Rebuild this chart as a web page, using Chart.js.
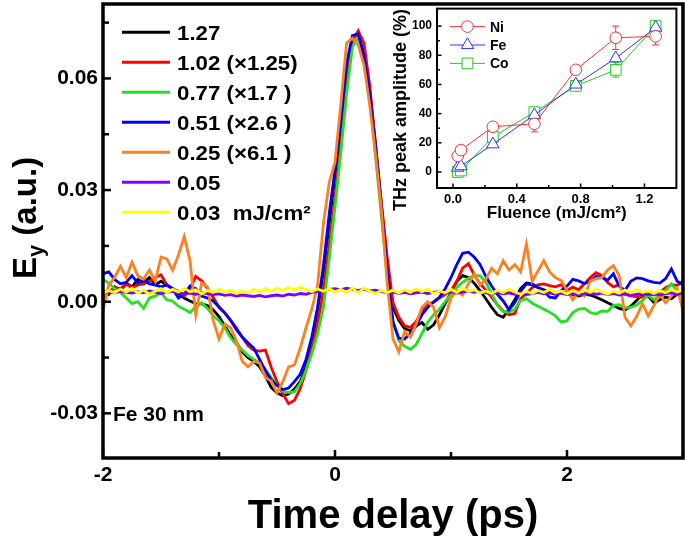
<!DOCTYPE html>
<html>
<head>
<meta charset="utf-8">
<script src="https://cdn.jsdelivr.net/npm/chart.js@4.4.1/dist/chart.umd.min.js"></script>
<style>
html,body{margin:0;padding:0;background:#fff;}
#wrap{position:relative;width:685px;height:544px;overflow:hidden;}
#main{position:absolute;left:0;top:0;width:685px;height:544px;}
#inset{position:absolute;left:380px;top:0;width:305px;height:232px;}
</style>
</head>
<body>
<div id="wrap">
<canvas id="main" width="685" height="544"></canvas>
<canvas id="inset" width="305" height="232"></canvas>
</div>
<script>
// ---------------- data: main panel (time traces) ----------------
const timePs = [-2,-1.95,-1.9,-1.85,-1.8,-1.75,-1.7,-1.65,-1.6,-1.55,-1.5,-1.45,-1.4,-1.35,-1.3,-1.25,-1.2,-1.15,-1.1,-1.05,-1,-0.95,-0.9,-0.85,-0.8,-0.75,-0.7,-0.65,-0.6,-0.55,-0.5,-0.45,-0.4,-0.35,-0.3,-0.25,-0.2,-0.15,-0.1,-0.05,0,0.05,0.1,0.15,0.2,0.25,0.3,0.35,0.4,0.45,0.5,0.55,0.6,0.65,0.7,0.75,0.8,0.85,0.9,0.95,1,1.05,1.1,1.15,1.2,1.25,1.3,1.35,1.4,1.45,1.5,1.55,1.6,1.65,1.7,1.75,1.8,1.85,1.9,1.95,2,2.05,2.1,2.15,2.2,2.25,2.3,2.35,2.4,2.45,2.5,2.55,2.6,2.65,2.7,2.75,2.8,2.85,2.9,2.95,3];

const ey127 = [0.0030,0.0020,0.0040,0.0030,0.0050,0.0040,0.0060,0.0050,0.0065,0.0045,
0.0055,0.0045,0.0035,0.0022,0.0010,0.0002,-0.0005,-0.0006,-0.0010,-0.0022,
-0.0040,-0.0065,-0.0090,-0.0110,-0.0135,-0.0150,-0.0160,-0.0175,-0.0200,-0.0230,
-0.0245,-0.0253,-0.0248,-0.0235,-0.0215,-0.0175,-0.0110,-0.0020,0.0080,0.0210,
0.0340,0.0470,0.0620,0.0710,0.0720,0.0665,0.0560,0.0420,0.0260,0.0100,
-0.0015,-0.0050,-0.0072,-0.0078,-0.0065,-0.0056,-0.0074,-0.0062,-0.0035,-0.0005,
0.0025,0.0055,0.0070,0.0065,0.0050,0.0030,0.0008,-0.0015,-0.0035,-0.0042,
-0.0020,0.0005,0.0035,0.0050,0.0048,0.0038,0.0032,0.0028,0.0025,0.0026,
0.0023,0.0018,0.0015,0.0020,0.0018,0.0012,0.0005,-0.0003,-0.0010,-0.0018,
-0.0022,-0.0012,0.0003,0.0020,0.0015,-0.0003,0.0005,0.0012,0.0008,0.0020,0.0025];

const ey102 = [0.0010,0.0025,0.0038,0.0035,0.0047,0.0038,0.0045,0.0048,0.0055,0.0065,
0.0072,0.0045,0.0035,0.0028,0.0015,0.0035,0.0068,0.0056,0.0036,0.0012,
-0.0015,-0.0030,-0.0050,-0.0070,-0.0095,-0.0118,-0.0130,-0.0133,-0.0130,-0.0176,
-0.0215,-0.0247,-0.0274,-0.0265,-0.0234,-0.0185,-0.0125,-0.0060,0.0030,0.0150,
0.0280,0.0420,0.0590,0.0700,0.0728,0.0695,0.0580,0.0420,0.0265,0.0120,
-0.0002,-0.0042,-0.0065,-0.0069,-0.0053,-0.0025,-0.0008,-0.0002,0.0010,0.0020,
0.0030,0.0055,0.0090,0.0102,0.0072,0.0048,0.0032,0.0012,-0.0008,-0.0025,
-0.0035,-0.0032,0.0008,0.0023,0.0038,0.0045,0.0048,0.0043,0.0040,0.0046,
0.0030,0.0039,0.0032,0.0048,0.0065,0.0078,0.0070,0.0052,0.0040,0.0046,
0.0020,0.0016,0.0014,0.0012,0.0022,0.0018,0.0025,0.0038,0.0046,0.0044,0.0055];

const ey077 = [0.0060,0.0050,0.0035,0.0025,0.0010,-0.0005,0.0000,-0.0018,0.0010,0.0015,
0.0024,0.0005,0.0002,-0.0012,-0.0020,-0.0029,-0.0013,-0.0003,-0.0018,-0.0038,
-0.0051,-0.0070,-0.0097,-0.0115,-0.0130,-0.0145,-0.0155,-0.0165,-0.0182,-0.0204,
-0.0225,-0.0240,-0.0244,-0.0242,-0.0220,-0.0185,-0.0140,-0.0085,-0.0015,0.0115,
0.0255,0.0400,0.0560,0.0685,0.0710,0.0660,0.0540,0.0390,0.0230,0.0070,
-0.0050,-0.0105,-0.0120,-0.0128,-0.0115,-0.0085,-0.0055,-0.0035,-0.0020,0.0000,
0.0020,0.0039,0.0052,0.0063,0.0070,0.0070,0.0052,0.0022,-0.0010,-0.0027,
-0.0028,-0.0020,0.0003,0.0008,-0.0004,-0.0012,-0.0020,-0.0028,-0.0038,-0.0055,
-0.0051,-0.0029,-0.0020,-0.0018,-0.0029,-0.0033,-0.0025,-0.0026,-0.0010,-0.0008,
-0.0016,-0.0015,-0.0009,0.0003,0.0018,0.0005,0.0020,0.0030,0.0048,0.0028,0.0025];

const ey051 = [0.0075,0.0080,0.0060,0.0048,0.0052,0.0070,0.0050,0.0058,0.0048,0.0045,
0.0040,0.0045,0.0035,0.0010,0.0020,0.0042,0.0035,0.0015,0.0010,0.0002,
-0.0014,-0.0030,-0.0050,-0.0075,-0.0095,-0.0110,-0.0125,-0.0155,-0.0185,-0.0210,
-0.0225,-0.0236,-0.0232,-0.0215,-0.0195,-0.0155,-0.0095,-0.0015,0.0097,0.0235,
0.0355,0.0485,0.0640,0.0715,0.0720,0.0660,0.0560,0.0415,0.0250,0.0085,
-0.0055,-0.0098,-0.0100,-0.0085,-0.0065,-0.0035,-0.0015,0.0000,0.0012,0.0035,
0.0065,0.0100,0.0130,0.0133,0.0120,0.0100,0.0068,0.0042,0.0020,0.0002,
-0.0022,-0.0002,0.0028,0.0048,0.0045,0.0038,0.0028,0.0012,0.0010,0.0030,
0.0042,0.0060,0.0056,0.0049,0.0055,0.0068,0.0065,0.0058,0.0075,0.0042,
0.0030,0.0055,0.0064,0.0062,0.0056,0.0052,0.0050,0.0062,0.0088,0.0055,0.0045];

const ey025 = [-0.0024,0.0045,0.0065,0.0095,0.0065,0.0106,0.0070,0.0061,0.0085,0.0055,
0.0120,0.0115,0.0085,0.0125,0.0175,0.0110,-0.0035,0.0050,0.0040,-0.0050,
-0.0100,-0.0060,-0.0070,-0.0105,-0.0160,-0.0175,-0.0160,-0.0165,-0.0204,-0.0213,
-0.0245,-0.0215,-0.0175,-0.0170,-0.0125,-0.0070,-0.0020,0.0045,0.0210,0.0320,
0.0375,0.0530,0.0695,0.0708,0.0690,0.0635,0.0527,0.0395,0.0245,0.0050,
-0.0100,-0.0135,-0.0080,-0.0095,-0.0060,-0.0015,0.0000,-0.0015,-0.0070,-0.0040,
0.0010,0.0030,0.0018,0.0048,0.0075,0.0045,0.0060,0.0090,0.0075,0.0110,
0.0085,0.0100,0.0080,0.0155,0.0055,0.0083,0.0110,0.0080,0.0065,0.0057,
0.0030,0.0005,0.0025,0.0015,0.0055,0.0062,0.0065,0.0085,0.0097,0.0070,
-0.0042,-0.0065,-0.0040,-0.0005,-0.0038,-0.0010,0.0020,-0.0003,0.0015,0.0035,-0.0024];

const ey005 = [0.0022,0.0026,0.0024,0.0028,0.0025,0.0023,0.0027,0.0024,0.0029,0.0026,
0.0022,0.0025,0.0028,0.0024,0.0021,0.0023,0.0020,0.0024,0.0022,0.0019,
0.0021,0.0017,0.0019,0.0015,0.0018,0.0016,0.0014,0.0017,0.0013,0.0016,
0.0018,0.0015,0.0020,0.0018,0.0022,0.0020,0.0025,0.0028,0.0030,0.0033,
0.0035,0.0032,0.0036,0.0033,0.0030,0.0034,0.0029,0.0031,0.0027,0.0024,
0.0026,0.0022,0.0025,0.0021,0.0024,0.0026,0.0022,0.0025,0.0028,0.0024,
0.0027,0.0023,0.0026,0.0029,0.0025,0.0028,0.0024,0.0022,0.0025,0.0021,
0.0024,0.0020,0.0023,0.0019,0.0022,0.0025,0.0021,0.0024,0.0020,0.0023,
0.0019,0.0022,0.0018,0.0021,0.0024,0.0020,0.0023,0.0019,0.0022,0.0018,
0.0021,0.0017,0.0020,0.0023,0.0019,0.0022,0.0018,0.0021,0.0024,0.0020,0.0022];

const ey003 = [0.0022,0.0030,0.0024,0.0034,0.0026,0.0036,0.0023,0.0031,0.0020,0.0028,
0.0035,0.0024,0.0033,0.0026,0.0036,0.0027,0.0032,0.0021,0.0030,0.0025,
0.0034,0.0026,0.0031,0.0022,0.0029,0.0024,0.0033,0.0026,0.0035,0.0028,
0.0036,0.0030,0.0038,0.0032,0.0039,0.0033,0.0027,0.0034,0.0028,0.0035,
0.0026,0.0033,0.0025,0.0036,0.0024,0.0037,0.0028,0.0022,0.0030,0.0024,
0.0031,0.0023,0.0032,0.0025,0.0035,0.0027,0.0034,0.0022,0.0029,0.0024,
0.0033,0.0025,0.0036,0.0028,0.0032,0.0023,0.0029,0.0022,0.0031,0.0024,
0.0034,0.0026,0.0020,0.0028,0.0022,0.0030,0.0025,0.0033,0.0024,0.0029,
0.0021,0.0030,0.0023,0.0032,0.0025,0.0034,0.0026,0.0020,0.0028,0.0023,
0.0031,0.0024,0.0033,0.0025,0.0029,0.0022,0.0030,0.0024,0.0032,0.0026,0.0033];

const seriesLabels = ['1.27', '1.02 (\u00d71.25)', '0.77 (\u00d71.7 )', '0.51 (\u00d72.6 )', '0.25 (\u00d76.1 )', '0.05', '0.03  mJ/cm\u00b2'];
const seriesColors = ['#000000', '#ff0000', '#22e022', '#0000ff', '#ff801e', '#8000ff', '#ffff00'];

const xTickValues = [-2, -1, 0, 1, 2, 3];
const xTickLabeled = [-2, 0, 2];
const yTickValues = [-0.03, -0.015, 0, 0.015, 0.03, 0.045, 0.06, 0.075];
const yTickLabeled = [-0.03, 0, 0.03, 0.06];

// ---------------- data: inset (peak amplitude vs fluence) ----------------
const fluence = [0.03, 0.05, 0.25, 0.51, 0.77, 1.02, 1.27];
const ampNi = [11, 15, 31, 33, 70, 92, 93];
const ampFe = [3, 4, 19, 39, 60, 78, 99];
const ampCo = [0, 1, 24, 41, 59, 70, 100];
const errNi = [0, 0, 0, 5.5, 0, 8, 6];
const errFe = [0, 0, 0, 0, 0, 0, 0];
const errCo = [0, 0, 0, 0, 0, 5, 0];
const insetLabels = ['Ni', 'Fe', 'Co'];
const insetColors = ['#ff3030', '#3030ff', '#22cc22'];
const insetStyles = ['circle', 'triangle', 'rect'];
const insetRadius = [5.8, 7.2, 7.6];
const insetXTicks = [0, 0.4, 0.8, 1.2];
const insetXMinor = [0.2, 0.6, 1.0];
const insetYTicks = [0, 20, 40, 60, 80, 100];
const insetYMinor = [10, 30, 50, 70, 90];

// ---------------- drawing ----------------
const FONT = '"Liberation Sans", Arial, Helvetica, sans-serif';
Chart.defaults.font.family = FONT;
Chart.defaults.color = '#000';
const near = (a, b) => Math.abs(a - b) < 1e-9;
const noPadY = s => { s.paddingTop = 0; s.paddingBottom = 0; };
const noPadX = s => { s.paddingLeft = 0; s.paddingRight = 0; };

const mainDecor = {
  id: 'mainDecor',
  afterDatasetsDraw(chart) {
    const {ctx, chartArea: a, scales: {x, y}} = chart;
    ctx.save();
    ctx.strokeStyle = '#000';
    ctx.lineWidth = 2.5;
    xTickValues.forEach(v => {
      const px = x.getPixelForValue(v);
      const len = xTickLabeled.some(l => near(l, v)) ? 8 : 6;
      ctx.beginPath(); ctx.moveTo(px, a.bottom); ctx.lineTo(px, a.bottom - len); ctx.stroke();
    });
    yTickValues.forEach(v => {
      const py = y.getPixelForValue(v);
      const len = yTickLabeled.some(l => near(l, v)) ? 8 : 6;
      ctx.beginPath(); ctx.moveTo(a.left, py); ctx.lineTo(a.left + len, py); ctx.stroke();
    });
    ctx.lineWidth = 3.5;
    ctx.strokeRect(a.left, a.top, a.right - a.left, a.bottom - a.top);
    ctx.restore();
  },
  afterDraw(chart) {
    const {ctx, chartArea: a} = chart;
    ctx.save();
    // legend
    ctx.font = 'bold 21px ' + FONT;
    ctx.textBaseline = 'alphabetic';
    chart.data.datasets.forEach((ds, i) => {
      const row = a.top + 28.3 + 30 * i;
      ctx.strokeStyle = ds.borderColor;
      ctx.lineWidth = 3;
      ctx.beginPath(); ctx.moveTo(a.left + 19, row); ctx.lineTo(a.left + 67, row); ctx.stroke();
      ctx.fillStyle = '#000';
      ctx.save();
      ctx.translate(a.left + 74, row + 7.5);
      ctx.scale(1.06, 1);
      ctx.fillText(ds.label, 0, 0);
      ctx.restore();
    });
    // sample note
    ctx.fillText('Fe 30 nm', a.left + 10, 421);
    // y axis title  E_y (a.u.)
    const big = 'bold 33px ' + FONT, small = 'bold 22px ' + FONT;
    ctx.font = big; const wE = ctx.measureText('E').width; const wR = ctx.measureText(' (a.u.)').width;
    ctx.font = small; const wy = ctx.measureText('y').width;
    const W = wE + wy + wR;
    ctx.translate(24, 218);
    ctx.rotate(-Math.PI / 2);
    const base = 12;
    let cx = -W / 2;
    ctx.font = big; ctx.fillText('E', cx, base); cx += wE;
    ctx.font = small; ctx.fillText('y', cx, base + 7); cx += wy;
    ctx.font = big; ctx.fillText(' (a.u.)', cx, base);
    ctx.restore();
  }
};

new Chart(document.getElementById('main'), {
  type: 'line',
  data: {
    datasets: [ey127, ey102, ey077, ey051, ey025, ey005, ey003].map((vals, i) => ({
      label: seriesLabels[i],
      data: vals.map((v, k) => ({x: timePs[k], y: v})),
      borderColor: seriesColors[i],
      borderWidth: 2.8,
      pointRadius: 0,
      tension: 0,
      fill: false,
      order: 6 - i
    }))
  },
  options: {
    responsive: false,
    animation: false,
    devicePixelRatio: 1,
    layout: {padding: {top: 4, right: 2, left: 0, bottom: 0}},
    plugins: {legend: {display: false}, tooltip: {enabled: false}},
    scales: {
      x: {
        type: 'linear', min: -2, max: 3,
        afterBuildTicks: s => { s.ticks = xTickValues.map(v => ({value: v})); },
        afterFit: s => { s.height = 86; noPadX(s); },
        grid: {display: false, drawTicks: false},
        border: {display: false},
        ticks: {
          autoSkip: false, maxRotation: 0, padding: 5, color: '#000',
          font: {family: FONT, size: 21, weight: 'bold'},
          callback: v => xTickLabeled.some(l => near(l, v)) ? String(v) : ''
        },
        title: {
          display: true, text: 'Time delay (ps)', color: '#000',
          font: {family: FONT, size: 40, weight: 'bold'},
          padding: {top: 0, bottom: 3}
        }
      },
      y: {
        type: 'linear', min: -0.042, max: 0.08,
        afterBuildTicks: s => { s.ticks = yTickValues.map(v => ({value: v})); },
        afterFit: s => { s.width = 103; noPadY(s); },
        grid: {display: false, drawTicks: false},
        border: {display: false},
        ticks: {
          autoSkip: false, padding: 5, color: '#000',
          font: {family: FONT, size: 21, weight: 'bold'},
          callback: v => yTickLabeled.some(l => near(l, v)) ? v.toFixed(2) : ''
        }
      }
    }
  },
  plugins: [mainDecor]
});

// ---------------- inset ----------------
const insetAmps = [ampNi, ampFe, ampCo];
const insetErrs = [errNi, errFe, errCo];

const insetDecor = {
  id: 'insetDecor',
  beforeDatasetsDraw(chart) {
    const {ctx, chartArea: a, scales: {x, y}} = chart;
    ctx.save();
    ctx.fillStyle = '#fff';
    ctx.fillRect(a.left, a.top, a.right - a.left, a.bottom - a.top);
    // error bars (behind markers)
    ctx.lineWidth = 1;
    chart.data.datasets.forEach((ds, i) => {
      ctx.strokeStyle = ds.borderColor;
      insetErrs[i].forEach((e, k) => {
        if (!e) return;
        const px = x.getPixelForValue(fluence[k]);
        const y1 = y.getPixelForValue(insetAmps[i][k] - e);
        const y2 = y.getPixelForValue(insetAmps[i][k] + e);
        ctx.beginPath();
        ctx.moveTo(px, y1); ctx.lineTo(px, y2);
        ctx.moveTo(px - 3.5, y1); ctx.lineTo(px + 3.5, y1);
        ctx.moveTo(px - 3.5, y2); ctx.lineTo(px + 3.5, y2);
        ctx.stroke();
      });
    });
    ctx.restore();
  },
  afterDatasetsDraw(chart) {
    const {ctx, chartArea: a, scales: {x, y}} = chart;
    ctx.save();
    ctx.strokeStyle = '#000';
    ctx.lineWidth = 1.5;
    insetXTicks.concat(insetXMinor).forEach(v => {
      const px = x.getPixelForValue(v);
      const len = insetXTicks.includes(v) ? 4.5 : 3;
      ctx.beginPath(); ctx.moveTo(px, a.bottom); ctx.lineTo(px, a.bottom - len); ctx.stroke();
    });
    insetYTicks.concat(insetYMinor).forEach(v => {
      const py = y.getPixelForValue(v);
      const len = insetYTicks.includes(v) ? 4.5 : 3;
      ctx.beginPath(); ctx.moveTo(a.left, py); ctx.lineTo(a.left + len, py); ctx.stroke();
    });
    ctx.lineWidth = 2;
    ctx.strokeRect(a.left, a.top, a.right - a.left, a.bottom - a.top);
    // legend
    ctx.font = 'bold 14px ' + FONT;
    ctx.textBaseline = 'alphabetic';
    chart.data.datasets.forEach((ds, i) => {
      const row = a.top + 18 + 18.4 * i;
      ctx.strokeStyle = ds.borderColor;
      ctx.lineWidth = 1;
      ctx.beginPath(); ctx.moveTo(a.left + 13, row); ctx.lineTo(a.left + 48, row); ctx.stroke();
      ctx.fillStyle = '#fff';
      Chart.helpers.drawPoint(ctx, {pointStyle: insetStyles[i], radius: insetRadius[i], rotation: 0, borderWidth: 1}, a.left + 30.5, row);
      ctx.fillStyle = '#000';
      ctx.fillText(ds.label, a.left + 53, row + 5);
    });
    // y title
    ctx.font = 'bold 18px ' + FONT;
    ctx.translate(21, 110);
    ctx.rotate(-Math.PI / 2);
    ctx.textAlign = 'center';
    ctx.textBaseline = 'middle';
    ctx.fillText('THz peak amplitude (%)', 0, 0);
    ctx.restore();
  }
};

new Chart(document.getElementById('inset'), {
  type: 'line',
  data: {
    datasets: insetAmps.map((vals, i) => ({
      label: insetLabels[i],
      data: vals.map((v, k) => ({x: fluence[k], y: v})),
      borderColor: insetColors[i],
      borderWidth: 1,
      pointStyle: insetStyles[i],
      pointRadius: insetRadius[i],
      pointBorderWidth: 1,
      pointBorderColor: insetColors[i],
      pointBackgroundColor: '#ffffff',
      tension: 0,
      fill: false
    }))
  },
  options: {
    responsive: false,
    animation: false,
    devicePixelRatio: 1,
    layout: {padding: {top: 7, right: 7, left: 0, bottom: 0}},
    plugins: {legend: {display: false}, tooltip: {enabled: false}},
    scales: {
      x: {
        type: 'linear', min: -0.1, max: 1.4,
        afterBuildTicks: s => { s.ticks = insetXTicks.map(v => ({value: v})); },
        afterFit: s => { s.height = 44; noPadX(s); },
        grid: {display: false, drawTicks: false},
        border: {display: false},
        ticks: {autoSkip: false, maxRotation: 0, padding: 4, color: '#000',
          font: {family: FONT, size: 13, weight: 'bold'},
          callback: v => v.toFixed(1)},
        title: {display: true, text: 'Fluence (mJ/cm\u00b2)', color: '#000',
          font: {family: FONT, size: 17, weight: 'bold'}, padding: {top: 0, bottom: 8}}
      },
      y: {
        type: 'linear', min: -11, max: 112,
        afterBuildTicks: s => { s.ticks = insetYTicks.map(v => ({value: v})); },
        afterFit: s => { s.width = 57; noPadY(s); },
        grid: {display: false, drawTicks: false},
        border: {display: false},
        ticks: {autoSkip: false, padding: 5, color: '#000',
          font: {family: FONT, size: 12, weight: 'bold'},
          callback: v => String(v)}
      }
    }
  },
  plugins: [insetDecor]
});
</script>
</body>
</html>
